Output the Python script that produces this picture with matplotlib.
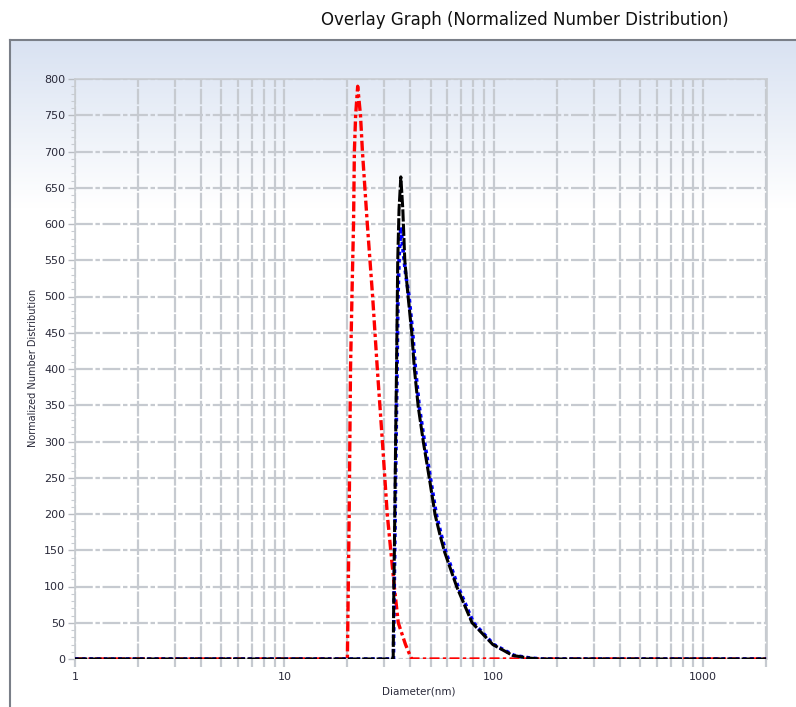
import numpy as np
import matplotlib
matplotlib.use('Agg')
import matplotlib.pyplot as plt
from matplotlib.ticker import FixedLocator, LogLocator, MultipleLocator, NullFormatter

# Diameter (nm) / normalized number values
red_d = [1, 20.0, 20.2, 20.4, 20.7, 21.1, 21.4, 21.6, 21.9, 22.4, 23.1, 23.6,
         24.9, 26.4, 27.8, 29.4, 31.0, 33.5, 35.0, 37.9, 40.5, 2000]
red_v = [0, 0, 100, 200, 400, 520, 600, 700, 750, 790, 750, 700,
         600, 500, 400, 300, 200, 100, 50, 20, 0, 0]

blue_d = [1, 33.2, 33.4, 33.7, 34.1, 34.5, 34.9, 35.4, 36.0, 37.0, 38.0, 39.4,
          41.0, 42.3, 44.1, 46.8, 50.0, 53.2, 56.3, 59.0, 67.5, 80, 100, 125,
          148, 170, 2000]
blue_v = [0, 0, 75, 160, 280, 390, 500, 560, 596, 560, 530, 500,
          450, 400, 348, 298, 247, 199, 170, 148, 100, 50, 20, 5,
          1.5, 0, 0]

black_d = [1, 33.1, 33.3, 33.6, 34.0, 34.4, 34.8, 35.3, 36.0, 36.8, 37.6, 39.0,
           40.6, 41.8, 43.6, 46.2, 49.4, 52.5, 55.4, 58.2, 66.5, 78.8, 99, 123,
           145, 166, 2000]
black_v = [0, 0, 80, 170, 300, 420, 550, 620, 665, 620, 550, 500,
           450, 400, 348, 298, 247, 199, 171, 148, 100, 50, 20, 5,
           1.5, 0, 0]

x_major = [1, 10, 100, 1000]
x_major_labels = ['1', '10', '100', '1000']

W, H = 796, 707
fig = plt.figure(figsize=(W / 100, H / 100), dpi=100)
fig.patch.set_facecolor('white')

# panel background with light blue gradient at the top
ax_bg = fig.add_axes([10 / W, 0, 1 - 10 / W, (H - 40) / H])
n = 400
t = np.linspace(0, 1, n)
frac = np.clip(t / 0.25, 0, 1)
top = np.array([0.850, 0.886, 0.948])
grad = top[None, :] * (1 - frac[:, None]) + np.ones(3)[None, :] * frac[:, None]
ax_bg.imshow(grad[:, None, :], aspect='auto', extent=[0, 1, 0, 1], origin='upper')
ax_bg.set_xlim(0, 1)
ax_bg.set_ylim(0, 1)
ax_bg.set_xticks([])
ax_bg.set_yticks([])
for s in ['bottom', 'right']:
    ax_bg.spines[s].set_visible(False)
for s in ['left', 'top']:
    ax_bg.spines[s].set_color('#7a7f88')
    ax_bg.spines[s].set_linewidth(1.5)

ax = fig.add_axes([75 / W, 1 - 659 / H, (767 - 75) / W, (659 - 79) / H])
ax.set_facecolor('none')
ax.set_zorder(2)

ax.plot(red_d, red_v, color='#ff0000', lw=2.4, linestyle=(0, (3, 1, 1, 1)), zorder=3)
ax.plot(blue_d, blue_v, color='#0000ff', lw=2.6, linestyle=(0, (1, 1)), zorder=4)
ax.plot(black_d, black_v, color='#000000', lw=2.2, linestyle=(0, (4, 0.7)), zorder=5)

ax.set_xscale('log')
ax.set_xlim(1, 2020)
ax.set_ylim(0, 800)

gridc = '#c6cad0'
ax.xaxis.set_major_locator(FixedLocator(x_major))
ax.set_xticklabels(x_major_labels)
ax.xaxis.set_minor_locator(LogLocator(base=10, subs=np.arange(2, 10)))
ax.xaxis.set_minor_formatter(NullFormatter())
ax.yaxis.set_major_locator(MultipleLocator(50))
ax.yaxis.set_minor_locator(MultipleLocator(10))

ax.grid(which='both', axis='x', color=gridc, lw=1.6, linestyle=(0, (7, 0.8)), zorder=1)
ax.grid(which='major', axis='y', color=gridc, lw=1.6, linestyle=(0, (8, 1.2, 2, 1.2)), zorder=1)
ax.set_axisbelow(True)

ax.tick_params(axis='x', which='both', direction='out', length=6, width=1.6,
               color=gridc, labelsize=8, labelcolor='#2a2a3a', pad=3)
ax.tick_params(axis='y', which='major', direction='out', length=5, width=1,
               color='#b8bcc2', labelsize=8, labelcolor='#2a2a3a', pad=2)
ax.tick_params(axis='y', which='minor', direction='out', length=3, width=0.8,
               color='#c8ccd2')

for s in ['left', 'top', 'right']:
    ax.spines[s].set_color('#c8ccd0')
    ax.spines[s].set_linewidth(1.2)
ax.spines['bottom'].set_visible(False)

fig.text(525 / W, 1 - 20 / H, 'Overlay Graph (Normalized Number Distribution)',
         ha='center', va='center', fontsize=12, color='#111111')
fig.text(419 / W, 1 - 692 / H, 'Diameter(nm)', ha='center', va='center',
         fontsize=7.5, color='#2a2a3a')
fig.text(33 / W, 1 - 368 / H, 'Normalized Number Distribution', ha='center',
         va='center', rotation=90, fontsize=7, color='#2a2a3a')

fig.savefig('out.png', dpi=100)
